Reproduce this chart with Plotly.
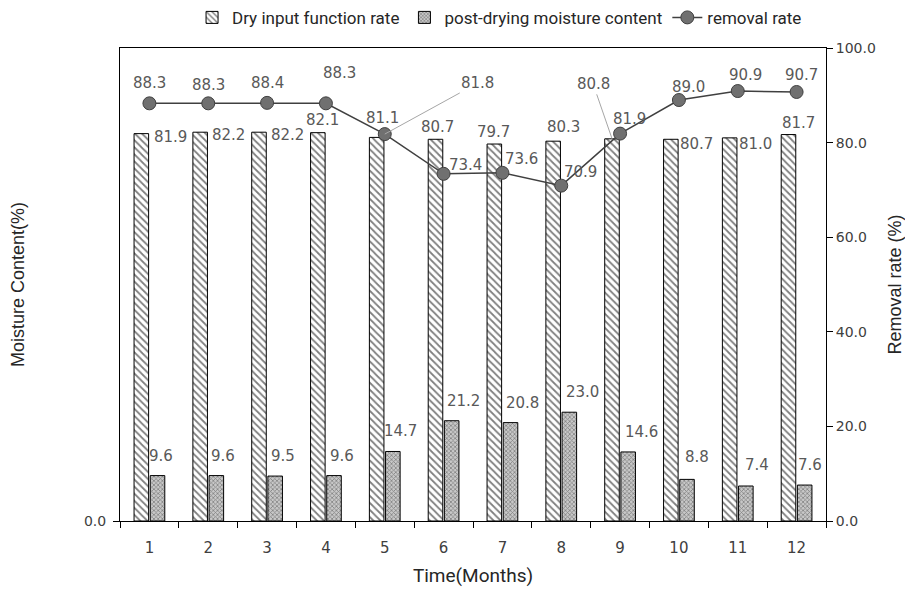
import plotly.graph_objects as go

# ---------------- data ----------------
months = [str(i) for i in range(1, 13)]
dry_input = [81.9, 82.2, 82.2, 82.1, 81.1, 80.7, 79.7, 80.3, 80.8, 80.7, 81.0, 81.7]
post_drying = [9.6, 9.6, 9.5, 9.6, 14.7, 21.2, 20.8, 23.0, 14.6, 8.8, 7.4, 7.6]
removal = [88.3, 88.3, 88.4, 88.3, 81.8, 73.4, 73.6, 70.9, 81.9, 89.0, 90.9, 90.7]

# label offsets in pixels (None -> label drawn with a leader line)
dry_dx = [21, 20, 20, -3, -2, -6, -9, 2, None, 18, 18, 2]
dry_dy = [-3, -3, -3, 13, 19, 12, 12, 14, None, -5, -6, 12]
post_dx = [12, 15, 16, 16, 16, 20, 20, 21, 21, 18, 19, 13]
post_dy = [20, 20, 20, 20, 20, 20, 20, 20, 20, 22, 21, 20]
rem_dx = [0, 0, 0, 14, None, 22, 19, 19, 9, 10, 8, 5]
rem_dy = [20, 18, 20, 30, None, 9, 14, 14, 15, 13, 16, 17]
# leader-line labels: (series, index, ax, ay, xshift)
leaders = [("rem", 4, 93, -51, 0), ("dry", 8, -19, -55, -8)]

LABEL_FONT = dict(family="DejaVu Sans", size=15, color="#595959")
TICK_FONT = dict(family="DejaVu Sans", size=14, color="#404040")
NARROW = "Liberation Sans Narrow, Roboto, Liberation Sans"

fig = go.Figure()
fig.add_trace(go.Bar(
    x=months, y=dry_input, name="Dry input function rate",
    marker=dict(color="white", line=dict(color="black", width=1),
                pattern=dict(shape="\\", fgcolor="black", bgcolor="white", size=5, solidity=0.35)),
    yaxis="y",
))
fig.add_trace(go.Bar(
    x=months, y=post_drying, name="post-drying moisture content",
    marker=dict(color="#bdbdbd", line=dict(color="black", width=1),
                pattern=dict(shape="x", fgcolor="#3a3a3a", bgcolor="#c8c8c8", size=3, solidity=0.45)),
    yaxis="y",
))
fig.add_trace(go.Scatter(
    x=months, y=removal, name="removal rate", mode="lines+markers",
    line=dict(color="#404040", width=1.5),
    marker=dict(size=13, color="#707070", line=dict(color="#404040", width=1)),
    yaxis="y2",
))

annotations = []
def add_label(i, y, text, dx, dy, yref):
    annotations.append(dict(x=i, y=y, xref="x", yref=yref, text=text, showarrow=False,
                            xanchor="center", yanchor="middle", xshift=dx, yshift=dy,
                            font=LABEL_FONT))

for i, m in enumerate(months):
    if dry_dx[i] is not None:
        add_label(i, dry_input[i], f"{dry_input[i]:.1f}", dry_dx[i], dry_dy[i], "y")
    add_label(i, post_drying[i], f"{post_drying[i]:.1f}", post_dx[i], post_dy[i], "y")
    if rem_dx[i] is not None:
        add_label(i, removal[i], f"{removal[i]:.1f}", rem_dx[i], rem_dy[i], "y2")

for series, i, ax, ay, xs in leaders:
    vals, yref = (removal, "y2") if series == "rem" else (dry_input, "y")
    annotations.append(dict(x=i, y=vals[i], xref="x", yref=yref, text=f"{vals[i]:.1f}",
                            showarrow=True, arrowhead=0, arrowwidth=1, arrowcolor="#a6a6a6",
                            ax=ax, ay=ay, xshift=xs, font=LABEL_FONT, standoff=0))

# the page body adds an 8px margin, so the figure is 16px smaller than the window
fig.update_layout(
    width=897, height=579,
    margin=dict(l=112, r=79, t=40, b=66, autoexpand=False),
    paper_bgcolor="white", plot_bgcolor="white",
    barmode="group", bargap=0.45, bargroupgap=0.1,
    showlegend=True,
    legend=dict(orientation="h", x=0.548, xanchor="center", xref="container",
                y=0.983, yanchor="middle", yref="container",
                font=dict(family=NARROW, size=17, color="#262626"),
                itemwidth=30, tracegroupgap=0, traceorder="normal"),
    xaxis=dict(type="category", range=[-0.5, 11.5], tickson="boundaries", ticks="outside", ticklen=6,
               tickcolor="black", showline=True, linecolor="black", linewidth=1,
               mirror=True, showgrid=False, tickfont=dict(family="DejaVu Sans", size=15, color="#404040"),
               automargin=False, ticklabelstandoff=13,
               title=dict(text="Time(Months)", font=dict(family=NARROW, size=19, color="#262626"), standoff=13)),
    yaxis=dict(range=[0, 100], tickvals=[0], ticktext=["0.0"], ticks="outside", ticklen=6,
               tickcolor="black", showline=True, linecolor="black", linewidth=1,
               showgrid=False, zeroline=False, tickfont=TICK_FONT, automargin=False,
               ticklabelstandoff=4,
               title=dict(text="Moisture Content(%)", font=dict(family="Liberation Sans", size=18, color="#262626"), standoff=57)),
    yaxis2=dict(range=[0, 100], overlaying="y", side="right",
                tickvals=[0, 20, 40, 60, 80, 100],
                ticktext=["0.0", "20.0", "40.0", "60.0", "80.0", "100.0"],
                ticks="outside", ticklen=6, tickcolor="black", automargin=False,
                showline=True, linecolor="black", linewidth=1, showgrid=False, zeroline=False,
                tickfont=TICK_FONT,
                title=dict(text="Removal rate (%)", font=dict(family="Liberation Sans", size=18, color="#262626"), standoff=14)),
    annotations=annotations,
)

fig.write_html("out.html")
